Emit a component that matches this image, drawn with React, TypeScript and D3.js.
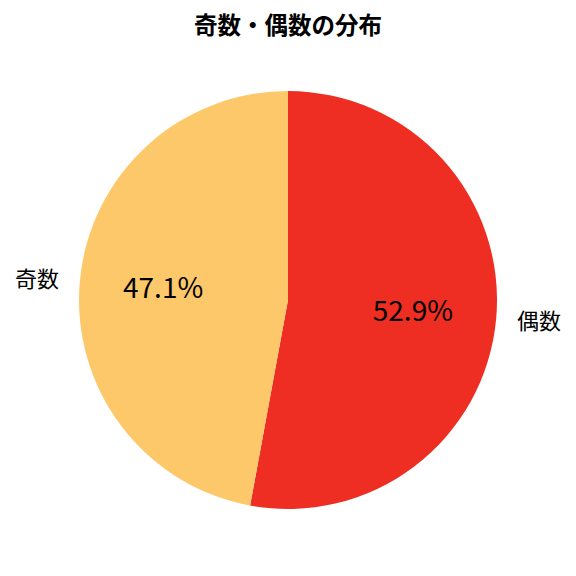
import React from 'react';
import * as d3 from 'd3';

const categories = ['偶数', '奇数'];
const percents = [52.9, 47.1];
const colors = ['#EE2E22', '#FDC86A'];

const W = 576;
const H = 576;
const FONT = '"Noto Sans CJK JP", "Noto Sans", sans-serif';

const App = () => {
  const cx = 288;
  const cy = 300;
  const r = 209;

  // start at top, go clockwise (like matplotlib startangle=90, counterclock=False)
  const pie = d3
    .pie<number>()
    .sort(null)
    .startAngle(0)
    .endAngle(2 * Math.PI);
  const arcs = pie(percents);
  const arc = d3.arc<d3.PieArcDatum<number>>().innerRadius(0).outerRadius(r);

  const at = (a: number, k: number) => [Math.sin(a) * r * k, -Math.cos(a) * r * k];

  return (
    <svg width={W} height={H} style={{ position: 'absolute', left: 0, top: 0, background: '#fff' }}>
      <text x={W / 2} y={34} textAnchor='middle' fontFamily={FONT} fontWeight='bold' fontSize={23.5}>
        奇数・偶数の分布
      </text>
      <g transform={`translate(${cx},${cy})`}>
        {arcs.map((d, i) => (
          <path key={categories[i]} d={arc(d) as string} fill={colors[i]} />
        ))}
        {arcs.map((d, i) => {
          const mid = (d.startAngle + d.endAngle) / 2;
          const [lx, ly] = at(mid, 1.1);
          const [px, py] = at(mid, 0.6);
          return (
            <g key={'l' + i}>
              <text
                x={lx}
                y={ly}
                dy='0.35em'
                textAnchor={lx > 0 ? 'start' : 'end'}
                fontFamily={FONT}
                fontSize={22}
              >
                {categories[i]}
              </text>
              <text x={px} y={py} dy='0.35em' textAnchor='middle' fontFamily={FONT} fontSize={28}>
                {d3.format('.1f')(percents[i])}%
              </text>
            </g>
          );
        })}
      </g>
    </svg>
  );
};

export default App;
